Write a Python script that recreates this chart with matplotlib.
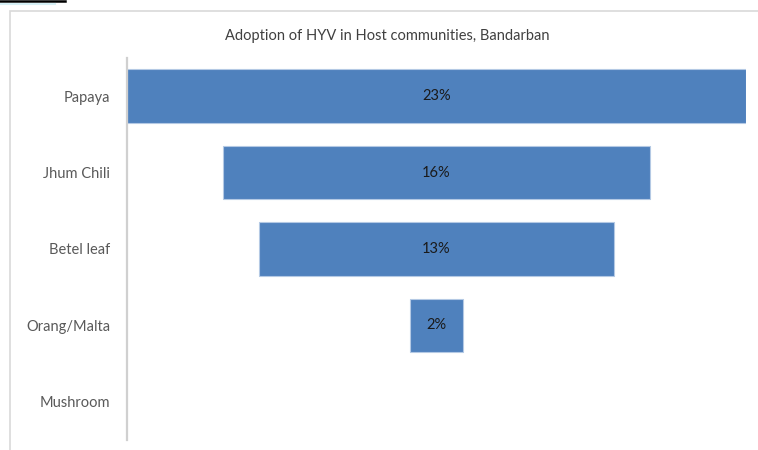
import matplotlib.pyplot as plt
from matplotlib.patches import Rectangle
from matplotlib.lines import Line2D
import numpy as np

crops = ['Papaya', 'Jhum Chili', 'Betel leaf', 'Orang/Malta', 'Mushroom']
adoption = [23, 15.9, 13.2, 2, 0]
labels = ['23%', '16%', '13%', '2%', '']

plt.rcParams['font.family'] = ['Lato', 'DejaVu Sans']

W, H = 758, 450
fig = plt.figure(figsize=(W / 100, H / 100), dpi=100)

# chart frame
fig.patches.append(Rectangle((10 / W, -0.01), 760 / W, 1 - 11 / H + 0.01,
                             transform=fig.transFigure, fill=False,
                             edgecolor='#d9d9d9', linewidth=1.2))
fig.lines.append(Line2D([0, 65 / W], [1 - 1 / H, 1 - 1 / H], transform=fig.transFigure,
                        color='black', linewidth=1.8))
fig.lines.append(Line2D([0, 55 / W], [1 - 4 / H, 1 - 4 / H], transform=fig.transFigure,
                        color='#d6f0f6', linewidth=1.5))

ax = fig.add_axes([127 / W, 10 / H, 619 / W, 382 / H])
vals = np.array(adoption, dtype=float)
top = vals.max()
y = np.arange(len(crops))
shown = vals > 0
ax.barh(y[shown], vals[shown], left=(top - vals[shown]) / 2, height=0.70,
        color='#4f81bd', edgecolor='#b4c9e4', linewidth=0.8)
for yi, lab in zip(y, labels):
    if lab:
        ax.text(top / 2, yi, lab, ha='center', va='center', fontsize=10.5, color='#1a1a1a')

ax.set_xlim(0, top)
ax.set_ylim(len(crops) - 0.5, -0.5)
ax.set_yticks(y)
ax.set_yticklabels(crops, fontsize=10.5, color='#595959')
ax.tick_params(axis='y', length=0, pad=12)
ax.set_xticks([])
for s in ['top', 'right', 'bottom']:
    ax.spines[s].set_visible(False)
ax.spines['left'].set_color('#d0d0d0')
ax.spines['left'].set_linewidth(1.6)

fig.text(387 / W, 1 - 36 / H, 'Adoption of HYV in Host communities, Bandarban',
         ha='center', va='center', fontsize=10.5, color='#404040')

fig.savefig('out.png', dpi=100)
